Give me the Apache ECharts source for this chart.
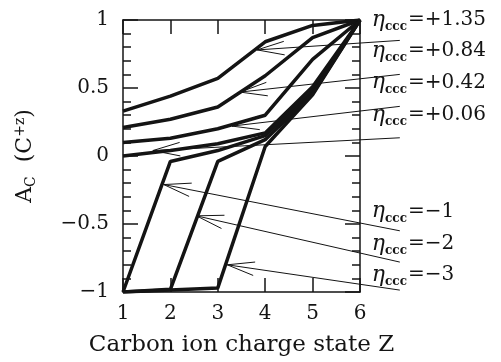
<!DOCTYPE html>
<html>
<head>
<meta charset="utf-8">
<script src="https://cdn.jsdelivr.net/npm/echarts@6/dist/echarts.min.js"></script>
<style>
  html, body { margin: 0; padding: 0; background: #fff; }
  #chart { width: 501px; height: 362px; }
</style>
</head>
<body>
<div id="chart"></div>
<script>
// charge state Z
var chargeZ = [1, 2, 3, 4, 5, 6];

// A_C per eta_ccc
var etaNames = ['+1.35', '+0.84', '+0.42', '+0.06', '−1', '−2', '−3'];
var acP135 = [0.33, 0.44, 0.57, 0.84, 0.96, 1];
var acP084 = [0.21, 0.27, 0.36, 0.59, 0.87, 1];
var acP042 = [0.10, 0.13, 0.20, 0.30, 0.71, 1];
var acP006 = [0.00, 0.04, 0.09, 0.17, 0.51, 1];
var acM1   = [-1, -0.04, 0.04, 0.15, 0.48, 1];
var acM2   = [-1, -0.98, -0.04, 0.12, 0.46, 1];
var acM3   = [-1, -0.985, -0.97, 0.07, 0.45, 1];

// arrows: [tipZ, tipA, tailZ, tailA]
var arrowEnds = [
  [3.83, 0.78, 6.84, 0.85],
  [3.47, 0.47, 6.84, 0.60],
  [3.30, 0.22, 6.84, 0.365],
  [1.63, 0.04, 6.84, 0.134],
  [1.86, -0.21, 6.84, -0.55],
  [2.55, -0.44, 6.84, -0.78],
  [3.20, -0.80, 6.84, -0.986]
];
// where each eta label sits: [Z, A] (left edge, middle)
var labelAt = [
  [6.25, 1.0], [6.25, 0.77], [6.25, 0.54], [6.25, 0.30],
  [6.25, -0.41], [6.25, -0.646], [6.25, -0.874]
];

var allCurves = [acP135, acP084, acP042, acP006, acM1, acM2, acM3];
var ink = '#141414';
var serif = 'DejaVu Serif';

function minus(v) { return String(v).replace('-', '−'); }

var chart = echarts.init(document.getElementById('chart'));

var lineSeries = allCurves.map(function (ys, i) {
  return {
    type: 'line',
    name: etaNames[i],
    data: chargeZ.map(function (z, k) { return [z, ys[k]]; }),
    showSymbol: false,
    symbol: 'none',
    lineStyle: { color: ink, width: 3.5 },
    z: 3
  };
});

// arrows with open heads
var arrowSeries = {
  type: 'custom',
  coordinateSystem: 'cartesian2d',
  clip: false,
  silent: true,
  data: arrowEnds,
  encode: { x: [0, 2], y: [1, 3] },
  renderItem: function (params, api) {
    var tip = api.coord([api.value(0), api.value(1)]);
    var tail = api.coord([api.value(2), api.value(3)]);
    var ang = Math.atan2(tail[1] - tip[1], tail[0] - tip[0]);
    var len = 28, half = 14 * Math.PI / 180;
    var w1 = [tip[0] + len * Math.cos(ang - half), tip[1] + len * Math.sin(ang - half)];
    var w2 = [tip[0] + len * Math.cos(ang + half), tip[1] + len * Math.sin(ang + half)];
    var st = { stroke: ink, lineWidth: 1, fill: null };
    return {
      type: 'group',
      children: [
        { type: 'line', shape: { x1: tip[0], y1: tip[1], x2: tail[0], y2: tail[1] }, style: st },
        { type: 'line', shape: { x1: tip[0], y1: tip[1], x2: w1[0], y2: w1[1] }, style: st },
        { type: 'line', shape: { x1: tip[0], y1: tip[1], x2: w2[0], y2: w2[1] }, style: st }
      ]
    };
  },
  z: 2
};

var labelSeries = {
  type: 'custom',
  coordinateSystem: 'cartesian2d',
  clip: false,
  silent: true,
  data: labelAt,
  renderItem: function (params, api) {
    var p = api.coord([api.value(0), api.value(1)]);
    return {
      type: 'text',
      x: p[0],
      y: p[1],
      style: {
        text: '{eta|η}{sub|ccc}{val|=' + etaNames[params.dataIndex] + '}',
        align: 'left',
        verticalAlign: 'middle',
        rich: {
          eta: { fontFamily: serif, fontStyle: 'italic', fontSize: 22, fill: ink, lineHeight: 30, verticalAlign: 'middle' },
          sub: { fontFamily: serif, fontWeight: 'bold', fontSize: 12, fill: ink, lineHeight: 30, verticalAlign: 'bottom', padding: [0, 1, 2, 0] },
          val: { fontFamily: serif, fontSize: 20, fill: ink, lineHeight: 30, verticalAlign: 'middle' }
        }
      }
    };
  },
  z: 4
};

function xAx(pos, showLabel) {
  return {
    type: 'value', min: 1, max: 6, interval: 1, position: pos,
    axisLine: { onZero: false, lineStyle: { color: ink, width: 1.5 } },
    axisTick: { inside: true, length: 14, lineStyle: { color: ink, width: 1.5 } },
    axisLabel: { show: showLabel, margin: 12, fontFamily: serif, fontSize: 20, color: ink },
    splitLine: { show: false }
  };
}
function yAx(pos, showLabel) {
  return {
    type: 'value', min: -1, max: 1, interval: 0.5, position: pos,
    axisLine: { onZero: false, lineStyle: { color: ink, width: 1.5 } },
    axisTick: { inside: true, length: 15, lineStyle: { color: ink, width: 1.5 } },
    minorTick: { show: true, splitNumber: 5, length: 8, lineStyle: { color: ink, width: 1.5 } },
    axisLabel: { show: showLabel, margin: 14, fontFamily: serif, fontSize: 20, color: ink, formatter: minus },
    splitLine: { show: false },
    minorSplitLine: { show: false }
  };
}

var bottomX = xAx('bottom', true);
bottomX.name = 'Carbon ion charge state Z';
bottomX.nameLocation = 'middle';
bottomX.nameGap = 42;
bottomX.nameTextStyle = { fontFamily: serif, fontSize: 23, color: ink };

var leftY = yAx('left', true);
leftY.name = '{m|A}{s|C}{m|  (C}{p|+z}{m|)}';
leftY.nameLocation = 'middle';
leftY.nameRotate = 90;
leftY.nameGap = 82;
leftY.nameTextStyle = {
  rich: {
    m: { fontFamily: serif, fontSize: 22, color: ink, lineHeight: 32, verticalAlign: 'middle' },
    s: { fontFamily: serif, fontSize: 14, color: ink, lineHeight: 32, verticalAlign: 'bottom', padding: [0, 0, 3, 0] },
    p: { fontFamily: serif, fontSize: 14, color: ink, lineHeight: 32, verticalAlign: 'top', padding: [4, 0, 0, 0] }
  }
};

chart.setOption({
  animation: false,
  backgroundColor: '#fff',
  grid: { left: 123, right: 141, top: 20, bottom: 65 },
  xAxis: [bottomX, xAx('top', false)],
  yAxis: [leftY, yAx('right', false)],
  series: lineSeries.concat([arrowSeries, labelSeries])
});
</script>
</body>
</html>
